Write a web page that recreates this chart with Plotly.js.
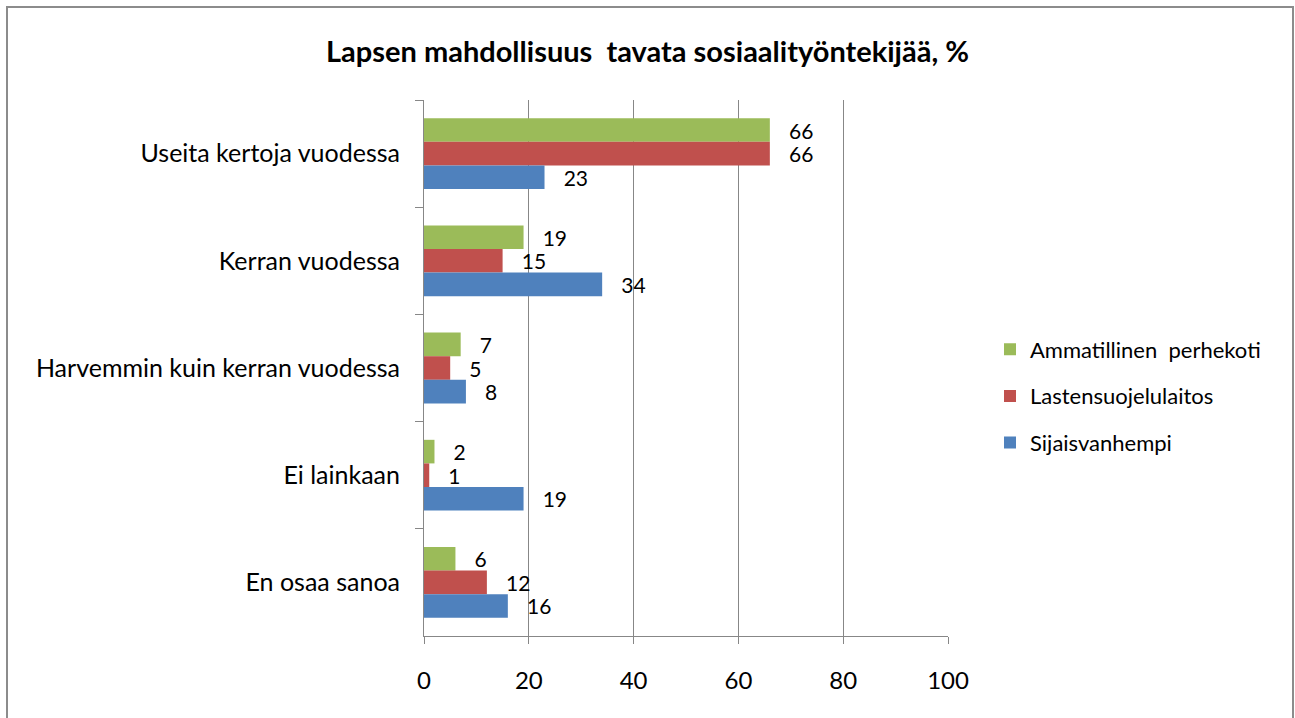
<!DOCTYPE html>
<html>
<head>
<meta charset="utf-8">
<script src="https://cdn.plot.ly/plotly-3.0.1.min.js"></script>
<style>
html,body{margin:0;padding:0;background:#fff;}
#chart{width:1295px;height:718px;}
</style>
</head>
<body>
<div id="chart"></div>
<script>
const categories = ["Useita kertoja vuodessa", "Kerran vuodessa", "Harvemmin kuin kerran vuodessa", "Ei lainkaan", "En osaa sanoa"];
const seriesNames = ["Ammatillinen  perhekoti", "Lastensuojelulaitos", "Sijaisvanhempi"];
const ammatillinen = [66, 19, 7, 2, 6];
const lastensuojelulaitos = [66, 15, 5, 1, 12];
const sijaisvanhempi = [23, 34, 8, 19, 16];
const xTicks = [0, 20, 40, 60, 80, 100];
const colors = ["#9BBB59", "#C0504D", "#4F81BD"];

const FONT = 'Lato, "Open Sans", sans-serif';
const values = [ammatillinen, lastensuojelulaitos, sijaisvanhempi];

const traces = values.map((v, i) => ({
  type: 'bar',
  orientation: 'h',
  name: seriesNames[i],
  legendgroup: 'g' + i,
  y: categories,
  x: v,
  marker: {color: colors[i], line: {width: 0}},
  text: v.map(String),
  texttemplate: '\u00a0\u00a0\u00a0%{x}',
  textposition: 'outside',
  constraintext: 'none',
  cliponaxis: false,
  textfont: {family: FONT, size: 21, color: '#000'},
  hoverinfo: 'x+name'
}));

const L = 424, R = 948, T = 100, B = 636;
const pw = R - L, ph = B - T;
const px = v => (v - L) / pw;
const py = v => (B - v) / ph;

const layout = {
  width: 1295, height: 718,
  margin: {l: L, r: 1295 - R, t: T, b: 718 - B, pad: 0},
  paper_bgcolor: '#fff', plot_bgcolor: '#fff',
  font: {family: FONT, size: 22, color: '#000'},
  title: {
    text: '<b>Lapsen mahdollisuus  tavata sosiaalityöntekijää, %</b>',
    font: {family: FONT, size: 29, color: '#000'},
    x: 0.5, xref: 'container', xanchor: 'center',
    y: 1 - 52 / 718, yref: 'container', yanchor: 'middle'
  },
  barmode: 'group',
  bargap: 0.34,
  bargroupgap: 0,
  showlegend: true,
  legend: {
    x: px(990), xanchor: 'left',
    y: py(396), yanchor: 'middle',
    traceorder: 'grouped',
    tracegroupgap: 15,
    font: {family: FONT, size: 22, color: '#000'},
    bgcolor: 'rgba(0,0,0,0)',
    itemwidth: 30
  },
  xaxis: {
    range: [0, 100],
    tickvals: xTicks,
    ticktext: xTicks.map(String),
    showgrid: true, gridcolor: '#878787', gridwidth: 1,
    showline: true, linecolor: '#878787', linewidth: 1,
    ticks: 'outside', ticklen: 7, tickcolor: '#878787',
    ticklabelstandoff: 16,
    tickfont: {family: FONT, size: 24, color: '#000'},
    zeroline: false,
    fixedrange: true
  },
  yaxis: {
    type: 'category',
    autorange: 'reversed',
    showgrid: false,
    showline: true, linecolor: '#878787', linewidth: 1,
    ticks: 'outside', ticklen: 8, tickcolor: '#878787',
    tickson: 'boundaries',
    ticklabelstandoff: 18,
    tickfont: {family: FONT, size: 25, color: '#000'},
    zeroline: false,
    fixedrange: true
  },
  shapes: [{
    type: 'rect', xref: 'paper', yref: 'paper',
    x0: px(7), x1: px(1293), y0: py(730), y1: py(7),
    line: {color: '#8c8c8c', width: 2}, fillcolor: 'rgba(0,0,0,0)', layer: 'below'
  }]
};

Plotly.newPlot('chart', traces, layout, {displayModeBar: false, staticPlot: true});
</script>
</body>
</html>
